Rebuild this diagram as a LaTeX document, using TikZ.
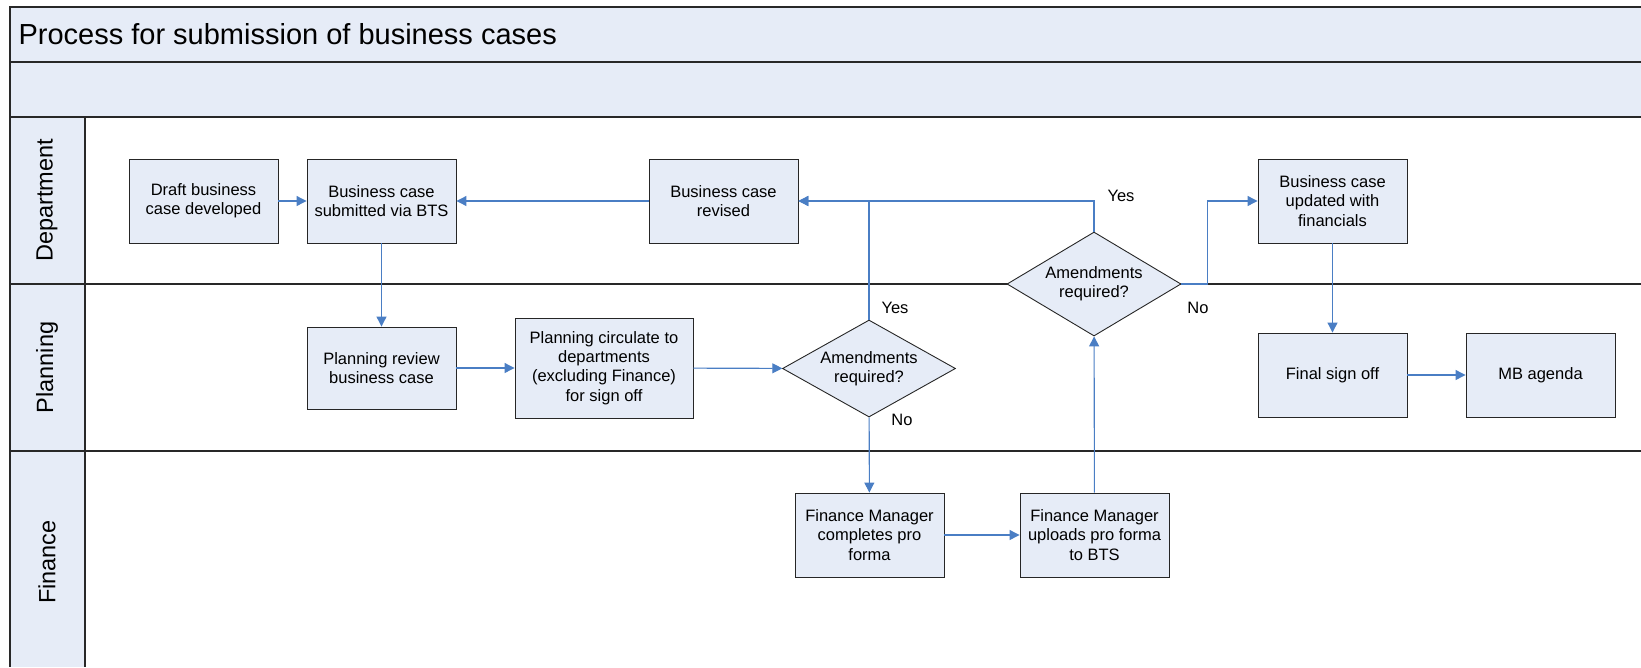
\documentclass[tikz,border=0pt]{standalone}
\usepackage{fontspec}
\setmainfont{Liberation Sans}
\usetikzlibrary{shapes.geometric,arrows.meta}
\definecolor{lanefill}{RGB}{230,236,247}
\definecolor{flowblue}{RGB}{74,126,196}
\definecolor{frameline}{RGB}{40,40,40}
\tikzset{
  boxtext/.style={font=\fontsize{16.5}{19.3}\selectfont, align=center},
  procbox/.style={boxtext, rectangle, draw=black!85, line width=0.9pt, fill=lanefill,
    minimum width=149pt, minimum height=84pt, inner sep=0pt},
  decision/.style={boxtext, diamond, draw=black!85, line width=0.9pt, fill=lanefill,
    shape aspect=1.8, inner sep=0pt},
  flow/.style={draw=flowblue, line width=1.1pt, -{Triangle[length=10pt,width=10pt]}},
  branch/.style={font=\fontsize{16.5}{19.3}\selectfont},
  lanetitle/.style={font=\fontsize{23.5}{26}\selectfont, rotate=90},
  frame/.style={draw=frameline, line width=1.4pt}
}
\begin{document}
\begin{tikzpicture}[x=1pt,y=-1pt]
\useasboundingbox (0,0) rectangle (1641,667);
% header bands and lane title column
\fill[lanefill] (10,7) rectangle (1641,117);
\fill[lanefill] (10,117) rectangle (85,667);
\draw[frame] (1641,7) -- (10,7) -- (10,667);
\draw[frame] (10,62) -- (1641,62);
\draw[frame] (10,117) -- (1641,117);
\draw[frame] (10,284) -- (1641,284);
\draw[frame] (10,451) -- (1641,451);
\draw[frame] (85,117) -- (85,667);
\node[anchor=west, font=\fontsize{29}{32}\selectfont] (title) at (15,34) {Process for submission of business cases};
% lane names
\node[lanetitle] (laneDept) at (47,200.5) {Department};
\node[lanetitle] (lanePlan) at (47,367.5) {Planning};
\node[lanetitle] (laneFin) at (47,562) {Finance};
% process steps
\node[procbox] (draft) at (203.5,201) {Draft business\\case developed};
\node[procbox] (submitted) at (381.5,201) {Business case\\submitted via BTS};
\node[procbox] (revised) at (723.5,201) {Business case\\revised};
\node[procbox] (updated) at (1332.5,201) {Business case\\updated with\\financials};
\node[procbox, minimum height=82pt] (review) at (381.5,368) {Planning review\\business case};
\node[procbox, minimum width=178pt, minimum height=100pt] (circulate) at (604,368) {Planning circulate to\\departments\\(excluding Finance)\\for sign off};
\node[decision, minimum width=173pt, minimum height=97pt] (decA) at (869,368.5) {Amendments\\required?};
\node[decision, minimum width=174pt, minimum height=104pt] (decB) at (1094,284) {Amendments\\required?};
\node[procbox] (finalsign) at (1332.5,375) {Final sign off};
\node[procbox] (agenda) at (1540.5,375) {MB agenda};
\node[procbox] (fmcomplete) at (869.5,535) {Finance Manager\\completes pro\\forma};
\node[procbox] (fmupload) at (1094.5,535) {Finance Manager\\uploads pro forma\\to BTS};
% connectors
\draw[flow] (draft) -- (submitted);
\draw[flow] (revised) -- (submitted);
\draw[flow] (submitted) -- (review);
\draw[flow] (review) -- (circulate);
\draw[flow] (circulate) -- (decA);
\draw[flow] (decA.north) |- (revised.east);
\draw[flow] (decA) -- (fmcomplete);
\draw[flow] (fmcomplete) -- (fmupload);
\draw[flow] (fmupload) -- (decB);
\draw[flow] (decB.north) |- (revised.east);
\draw[flow] (decB.east) -- ++(26,0) |- (updated.west);
\draw[flow] (updated) -- (finalsign);
\draw[flow] (finalsign) -- (agenda);
% branch labels
\node[branch] (yesA) at (895,308) {Yes};
\node[branch] (noA) at (902,420) {No};
\node[branch] (yesB) at (1121,196) {Yes};
\node[branch] (noB) at (1198,308) {No};
\end{tikzpicture}
\end{document}
